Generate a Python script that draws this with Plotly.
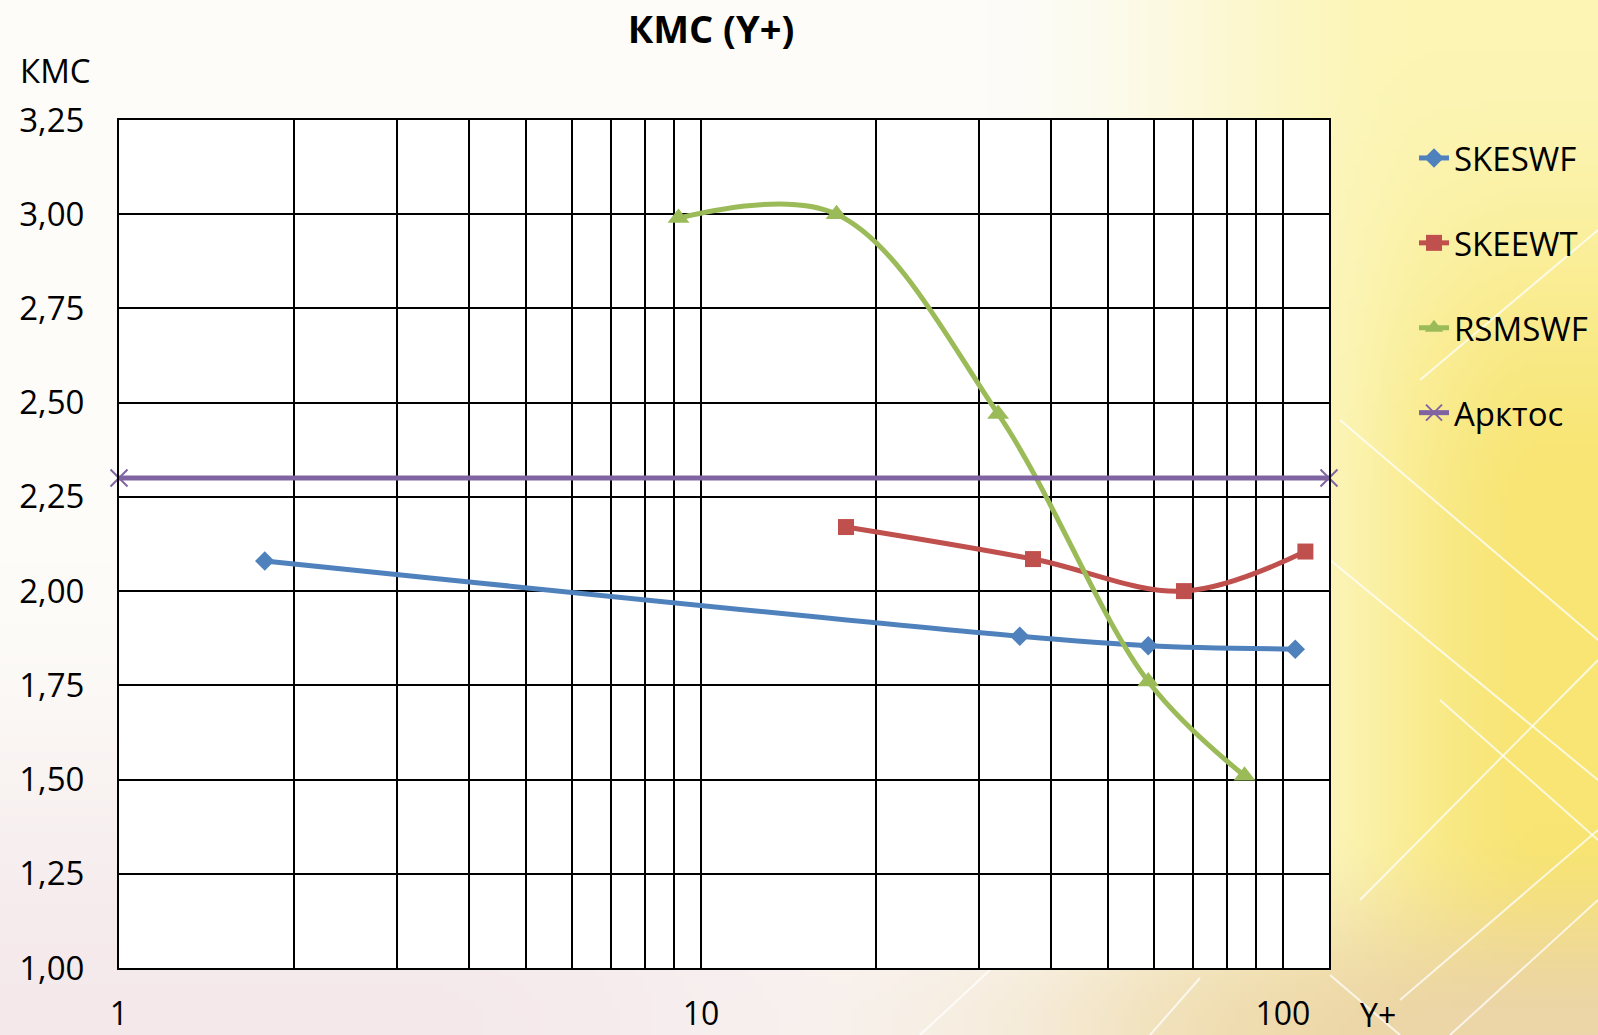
import base64
import struct
import zlib

import numpy as np
import plotly.graph_objects as go

# ---------------- data ----------------
skeswf_x = [1.78, 35.3, 58.7, 105.0]
skeswf_y = [2.08, 1.88, 1.855, 1.846]

skeewt_x = [17.75, 37.2, 67.6, 109.3]
skeewt_y = [2.17, 2.085, 2.00, 2.105]

rsmswf_x = [9.15, 17.1, 32.4, 58.7, 85.9]
rsmswf_y = [2.99, 3.00, 2.47, 1.76, 1.51]

arktos_x = [1, 120]
arktos_y = [2.30, 2.30]

x_tickvals = [1, 2, 3, 4, 5, 6, 7, 8, 9, 10, 20, 30, 40, 50, 60, 70, 80, 90, 100]
x_ticktext = ["1", "", "", "", "", "", "", "", "", "10", "", "", "", "", "", "", "", "", "100"]

# ---------------- geometry ----------------
W, H = 1598, 1035
L, R, T, B = 119, 269, 120, 67
PW, PH = W - L - R, H - T - B


def px(x):
    return (x - L) / PW


def py(y):
    return (H - B - y) / PH


FONT = "Open Sans"


# ---------------- background picture (decoration) ----------------
def make_png(arr):
    h, w, _ = arr.shape
    raw = b"".join(b"\x00" + arr[i].astype(np.uint8).tobytes() for i in range(h))

    def chunk(tag, data):
        return struct.pack(">I", len(data)) + tag + data + struct.pack(">I", zlib.crc32(tag + data) & 0xFFFFFFFF)

    return (b"\x89PNG\r\n\x1a\n" + chunk(b"IHDR", struct.pack(">IIBBBBB", w, h, 8, 2, 0, 0, 0))
            + chunk(b"IDAT", zlib.compress(raw, 9)) + chunk(b"IEND", b""))


def ss(a, b, x):
    t = np.clip((x - a) / (b - a), 0, 1)
    return t * t * (3 - 2 * t)


bw, bh = 200, 130
u = np.linspace(0, 1, bw)[None, :, None]
v = np.linspace(0, 1, bh)[:, None, None]
col = np.ones((bh, bw, 3)) * np.array([253, 252, 248])
pale_y = np.array([252, 245, 180])
deep_y = np.array([248, 229, 115])
k = ss(0.05, 0.5, v) * ss(0.8, 0.97, u)
yel = pale_y * (1 - k) + deep_y * k
wy = ss(0.62, 0.9, u)
col = col * (1 - wy) + yel * wy
tan = np.array([236, 213, 168])
wt = ss(0.8, 1.0, v) * ss(0.4, 0.95, u)
col = col * (1 - wt) + tan * wt
pink = np.array([243, 229, 233])
wp = ss(0.55, 1.0, v) * (1 - ss(0.25, 0.75, u)) * 0.85
col = col * (1 - wp) + pink * wp
bg_src = "data:image/png;base64," + base64.b64encode(make_png(np.clip(col, 0, 255))).decode()

# ---------------- figure ----------------
fig = go.Figure()

fig.add_trace(go.Scatter(
    x=skeswf_x, y=skeswf_y, name="SKESWF", mode="lines+markers", legendgroup="a",
    line=dict(color="#4F81BD", width=5, shape="spline"),
    marker=dict(symbol="diamond", size=15, color="#4F81BD"),
))
fig.add_trace(go.Scatter(
    x=skeewt_x, y=skeewt_y, name="SKEEWT", mode="lines+markers", legendgroup="b",
    line=dict(color="#C0504D", width=5, shape="spline"),
    marker=dict(symbol="square", size=16, color="#C0504D"),
))
fig.add_trace(go.Scatter(
    x=rsmswf_x, y=rsmswf_y, name="RSMSWF", mode="lines+markers", legendgroup="c",
    line=dict(color="#9BBB59", width=5, shape="spline"),
    marker=dict(symbol="triangle-up", size=19, color="#9BBB59"),
))
fig.add_trace(go.Scatter(
    x=arktos_x, y=arktos_y, name="Арктос", mode="lines+markers", legendgroup="d",
    line=dict(color="#8064A2", width=5),
    marker=dict(symbol="x-thin", size=17, color="#8064A2", line=dict(color="#8064A2", width=2)),
    cliponaxis=False,
))

# decorative white diagonal streaks
streaks = [
    ((920, 1035), (990, 970)),
    ((1150, 1035), (1200, 978)),
    ((1330, 975), (1400, 1035)),
    ((1340, 420), (1598, 640)),
    ((1330, 560), (1598, 780)),
    ((1360, 900), (1598, 660)),
    ((1400, 1000), (1598, 830)),
    ((1420, 380), (1598, 230)),
    ((1440, 700), (1598, 840)),
    ((1450, 1035), (1598, 900)),
]
shapes = [dict(type="rect", xref="x domain", yref="y domain", x0=0, x1=1, y0=0, y1=1,
               fillcolor="white", line=dict(width=0), layer="below")]
for (x0, y0), (x1, y1) in streaks:
    shapes.append(dict(type="line", xref="paper", yref="paper", x0=px(x0), y0=py(y0), x1=px(x1), y1=py(y1),
                       line=dict(color="rgba(255,255,255,0.75)", width=2), layer="below"))

fig.update_layout(
    width=W, height=H,
    margin=dict(l=L, r=R, t=T, b=B, pad=0, autoexpand=False),
    paper_bgcolor="rgba(0,0,0,0)",
    plot_bgcolor="white",
    separators=", ",
    font=dict(family=FONT, size=33, color="black"),
    showlegend=True,
    legend=dict(
        x=px(1414), y=py(130), xanchor="left", yanchor="top",
        font=dict(family=FONT, size=33, color="black"),
        bgcolor="rgba(0,0,0,0)", tracegroupgap=39, traceorder="grouped",
        itemwidth=30,
    ),
    title=dict(
        text="<b>КМС (Y+)</b>", x=711 / W, xref="container", xanchor="center",
        y=1 - 30 / H, yref="container", yanchor="middle",
        font=dict(family=FONT, size=38, color="black"),
    ),
    images=[dict(source=bg_src, xref="paper", yref="paper", x=px(0), y=py(0), sizex=W / PW, sizey=H / PH,
                 xanchor="left", yanchor="top", sizing="stretch", layer="below")],
    shapes=shapes,
    annotations=[
        dict(text="КМС", xref="paper", yref="paper", x=px(18), y=py(70), xanchor="left", yanchor="middle",
             showarrow=False, font=dict(family=FONT, size=33, color="black")),
        dict(text="Y+", xref="paper", yref="paper", x=px(1378), y=py(1014), xanchor="center", yanchor="middle",
             showarrow=False, font=dict(family=FONT, size=32, color="black")),
    ],
)

fig.update_xaxes(
    type="log", range=[0, np.log10(120)], automargin=False,
    tickmode="array", tickvals=x_tickvals, ticktext=x_ticktext,
    showgrid=True, gridcolor="black", gridwidth=1.6,
    showline=True, linecolor="black", linewidth=2, mirror=True,
    ticks="outside", ticklen=17, tickcolor="rgba(0,0,0,0)",
    tickfont=dict(family=FONT, size=32, color="black"), zeroline=False,
)
fig.update_yaxes(
    range=[1, 3.25], tick0=1, dtick=0.25, tickformat=".2f", automargin=False,
    showgrid=True, gridcolor="black", gridwidth=1.6,
    showline=True, linecolor="black", linewidth=2, mirror=True,
    ticks="outside", ticklen=26, tickcolor="rgba(0,0,0,0)",
    tickfont=dict(family=FONT, size=33, color="black"), zeroline=False,
)

fig.write_html("out.html", config={"displayModeBar": False},
               post_script="document.body.style.margin='0';document.body.style.overflow='hidden';")
